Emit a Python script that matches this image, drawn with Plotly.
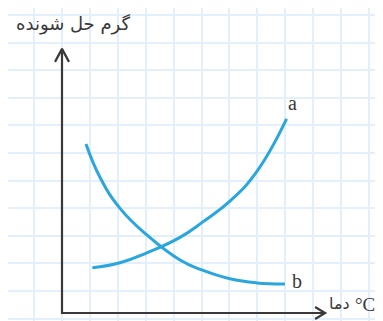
import plotly.graph_objects as go

# Curve a: solubility rises with temperature (grid units)
temp_a = [1.09, 2.08, 3.04, 4.23, 5.06, 6.06, 6.98, 8.05]
sol_a = [1.64, 1.82, 2.18, 2.74, 3.31, 4.09, 5.12, 7.03]

# Curve b: solubility falls with temperature
temp_b = [0.86, 1.36, 2.08, 3.04, 4.23, 5.01, 6.02, 6.98, 7.99]
sol_b = [6.12, 4.92, 3.79, 2.83, 1.92, 1.56, 1.24, 1.09, 1.05]

y_title = "گرم حل شونده"
x_title = "دما"
x_unit = "°C"
labels = ["a", "b"]

# axis extents (grid units)
x_end, y_end = 9.43, 9.57

W, H = 383, 321
page_pad = 8                 # the page body margin shifts the figure
px_x, px_y = 27.9, 27.6      # pixels per grid unit
org_x, org_y = 62 - page_pad, 313 - page_pad   # origin inside the figure


def dx(sx):
    return (sx - 62) / px_x


def dy(sy):
    return (313 - sy) / px_y


blue = "#2aa6df"
ink = "#3b3839"

fig = go.Figure()

curve = dict(color=blue, width=3, shape="spline", smoothing=1.3)
fig.add_trace(go.Scatter(x=temp_a, y=sol_a, mode="lines", line=curve))
fig.add_trace(go.Scatter(x=temp_b, y=sol_b, mode="lines", line=curve))

# axes with open arrow heads
ax_style = dict(mode="lines", line=dict(color=ink, width=2.2))
fig.add_trace(go.Scatter(x=[0, 0, x_end], y=[y_end, 0, 0], **ax_style))
fig.add_trace(go.Scatter(x=[-7 / px_x, 0, 7 / px_x], y=[y_end - 13 / px_y, y_end, y_end - 13 / px_y], **ax_style))
fig.add_trace(go.Scatter(x=[x_end - 10 / px_x, x_end, x_end - 10 / px_x], y=[6 / px_y, 0, -6 / px_y], **ax_style))

fig.add_annotation(x=temp_a[-1], y=sol_a[-1], text=labels[0], showarrow=False,
                   xshift=6, yshift=16, font=dict(family="Liberation Serif", size=20, color=ink))
fig.add_annotation(x=temp_b[-1], y=sol_b[-1], text=labels[1], showarrow=False,
                   xshift=12, yshift=3, font=dict(family="Liberation Serif", size=20, color=ink))
fig.add_annotation(x=dx(73), y=dy(24), text=y_title, showarrow=False,
                   font=dict(family="DejaVu Sans", size=18, color=ink))
fig.add_annotation(x=dx(352), y=dy(303), text=x_title, showarrow=False, xanchor="right",
                   font=dict(family="DejaVu Sans", size=16, color=ink))
fig.add_annotation(x=dx(353), y=dy(304), text=x_unit, showarrow=False, xanchor="left",
                   font=dict(family="Liberation Serif", size=19, color=ink))

grid = dict(showgrid=True, gridcolor="#e3effa", gridwidth=2, zeroline=False,
            showticklabels=False, ticks="", showline=False, dtick=1)

fig.update_layout(
    width=W, height=H,
    margin=dict(l=0, r=0, t=0, b=0),
    paper_bgcolor="white", plot_bgcolor="white",
    showlegend=False,
    xaxis=dict(range=[-org_x / px_x, (W - org_x) / px_x], tick0=0, **grid),
    yaxis=dict(range=[-(H - org_y) / px_y, org_y / px_y], tick0=-0.2, **grid),
)

fig.write_html("out.html")
